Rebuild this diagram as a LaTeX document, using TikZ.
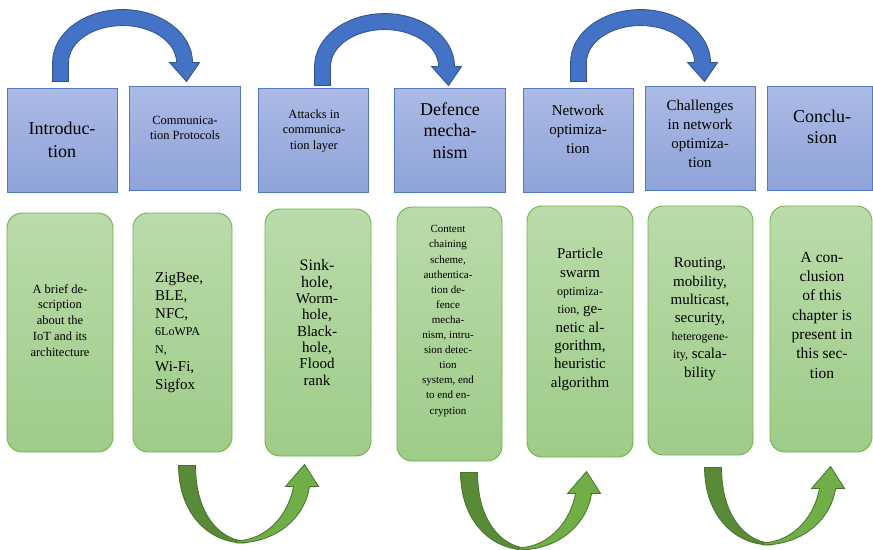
\documentclass[tikz,border=0pt]{standalone}
\usepackage{fontspec}
\setmainfont{Liberation Serif}
\usetikzlibrary{calc}

\definecolor{bluetop}{RGB}{172,186,229}
\definecolor{bluebot}{RGB}{142,163,216}
\definecolor{blueedge}{RGB}{84,122,198}
\definecolor{greentop}{RGB}{186,219,170}
\definecolor{greenbot}{RGB}{158,204,136}
\definecolor{greenedge}{RGB}{114,176,74}
\definecolor{arrowblue}{RGB}{68,114,196}
\definecolor{arrowblueedge}{RGB}{47,82,143}
\definecolor{arrowgreendark}{RGB}{88,138,56}
\definecolor{arrowgreenlight}{RGB}{112,174,71}
\definecolor{arrowgreenedge}{RGB}{70,115,42}

% font size helper: size and baseline skip
\newcommand{\fsz}[2]{\fontsize{#1}{#2}\selectfont}
\newcommand{\smallword}[1]{{\fontsize{12}{12}\selectfont #1}}

\tikzset{
  topbox/.style={draw=blueedge, line width=0.9pt, top color=bluetop, bottom color=bluebot,
    inner sep=0pt, rectangle},
  botbox/.style={draw=greenedge, line width=0.9pt, top color=greentop, bottom color=greenbot,
    inner sep=0pt, rectangle, rounded corners=15pt},
  % texts are placed by the baseline of their last line
  label text/.style={inner sep=0pt, anchor=base, align=center, text=black},
  % curved arrow over two heading boxes; origin = bottom of the outer left leg
  bluearrow/.pic={
    \fill[arrowblue, draw=arrowblueedge, line width=0.8pt]
      (0,0) -- (0,-19)
      .. controls (0,-48.27) and (31.34,-72) .. (70,-72)
      .. controls (108.66,-72) and (140,-48.27) .. (140,-19)
      -- (147,-19) -- (134,0) -- (117,-19) -- (124,-19)
      .. controls (124,-39.44) and (99.82,-56) .. (70,-56)
      .. controls (40.18,-56) and (16,-39.44) .. (16,-19)
      -- (16,0) -- cycle;
  },
  % U-shaped arrow under two detail boxes; origin = top of the outer left leg
  greenarrow/.pic={
    \fill[arrowgreendark, draw=arrowgreenedge, line width=0.8pt]
      (0,0) .. controls (0,48) and (30,77.5) .. (66,77.5)
      -- (64,75.5) .. controls (42,73) and (17,50) .. (17,0) -- cycle;
    \fill[arrowgreenlight, draw=arrowgreenedge, line width=0.8pt]
      (58,77.5) .. controls (100,77.5) and (127,50) .. (131,21)
      -- (140,21) -- (126,-1) -- (107,21) -- (115,21)
      .. controls (110,48) and (90,74) .. (58,75.5) -- cycle;
  },
}

\begin{document}
\begin{tikzpicture}[x=1pt, y=-1pt]
\useasboundingbox (0,0) rectangle (873,549);

% heading boxes
\node[topbox, minimum width=110, minimum height=104] (b1) at (62,140) {};
\node[topbox, minimum width=111, minimum height=104] (b2) at (184.5,138) {};
\node[topbox, minimum width=110, minimum height=104] (b3) at (313,140) {};
\node[topbox, minimum width=111, minimum height=104] (b4) at (449.5,140) {};
\node[topbox, minimum width=110, minimum height=104] (b5) at (578,140) {};
\node[topbox, minimum width=110, minimum height=104] (b6) at (700,138) {};
\node[topbox, minimum width=105, minimum height=104] (b7) at (819.5,138) {};

% detail boxes
\node[botbox, minimum width=106, minimum height=239] (g1) at (60,332.5) {};
\node[botbox, minimum width=99,  minimum height=239] (g2) at (182.5,332.5) {};
\node[botbox, minimum width=106, minimum height=247] (g3) at (318,332.5) {};
\node[botbox, minimum width=105, minimum height=254] (g4) at (449.5,334) {};
\node[botbox, minimum width=106, minimum height=251] (g5) at (580,331.5) {};
\node[botbox, minimum width=105, minimum height=249] (g6) at (700.5,330.5) {};
\node[botbox, minimum width=102, minimum height=246] (g7) at (821,329) {};

% heading texts
\node[label text, font=\fsz{18}{23}] (t1) at (62,157) {Introduc-\\tion};
\node[label text, font=\fsz{12.5}{15}] (t2) at (185,139) {Communica-\\tion Protocols};
\node[label text, font=\fsz{12.5}{15.5}] (t3) at (314,149) {Attacks in\\communica-\\tion layer};
\node[label text, font=\fsz{18}{21.5}] (t4) at (450,158) {Defence\\mecha-\\nism};
\node[label text, font=\fsz{15}{19}] (t5) at (578,153) {Network\\optimiza-\\tion};
\node[label text, font=\fsz{15}{19}] (t6) at (700,167) {Challenges\\in network\\optimiza-\\tion};
\node[label text, font=\fsz{18}{21}] (t7) at (822,143) {Conclu-\\sion};

% detail texts
\node[label text, font=\fsz{12.5}{15.7}] (u1) at (60,356)
  {A brief de-\\scription\\about the\\IoT and its\\architecture};
\node[label text, anchor=base west, align=left, font=\fsz{15}{17.7}] (u2) at (155,389)
  {ZigBee,\\BLE,\\NFC,\\\smallword{6LoWPA}\\\smallword{N,}\\Wi-Fi,\\Sigfox};
\node[label text, font=\fsz{15}{16.3}] (u3) at (317,385)
  {{\fsz{16}{16.3}Sink-}\\{\fsz{16}{16.3}hole,}\\Worm-\\hole,\\Black-\\hole,\\Flood\\rank};
\node[label text, font=\fsz{11}{15.1}] (u4) at (448,414)
  {Content\\chaining\\scheme,\\authentica-\\tion de-\\fence\\mecha-\\nism, intru-\\sion detec-\\tion\\system, end\\to end en-\\cryption};
\node[label text, font=\fsz{15}{18.3}] (u5) at (580,387)
  {Particle\\swarm\\\smallword{optimiza-}\\\smallword{tion,} ge-\\netic al-\\gorithm,\\heuristic\\algorithm};
\node[label text, font=\fsz{15}{18.2}] (u6) at (700,377)
  {Routing,\\mobility,\\multicast,\\security,\\\smallword{heterogene-}\\\smallword{ity,} scala-\\bility};
\node[label text, font=\fsz{15.5}{19.3}] (u7) at (822,378)
  {A con-\\clusion\\of this\\chapter is\\present in\\this sec-\\tion};

% curved arrows above the headings
\pic at ($(b1.north west)+(46,-6)$) {bluearrow};
\pic at ($(b3.north west)+(57,-2)$) {bluearrow};
\pic at ($(b5.north west)+(48,-6)$) {bluearrow};

% curved arrows below the detail boxes
\pic at ($(g2.south west)+(46,13)$) {greenarrow};
\pic at ($(g4.south west)+(64,11)$) {greenarrow};
\pic at ($(g6.south west)+(57,12)$) {greenarrow};
\end{tikzpicture}
\end{document}
